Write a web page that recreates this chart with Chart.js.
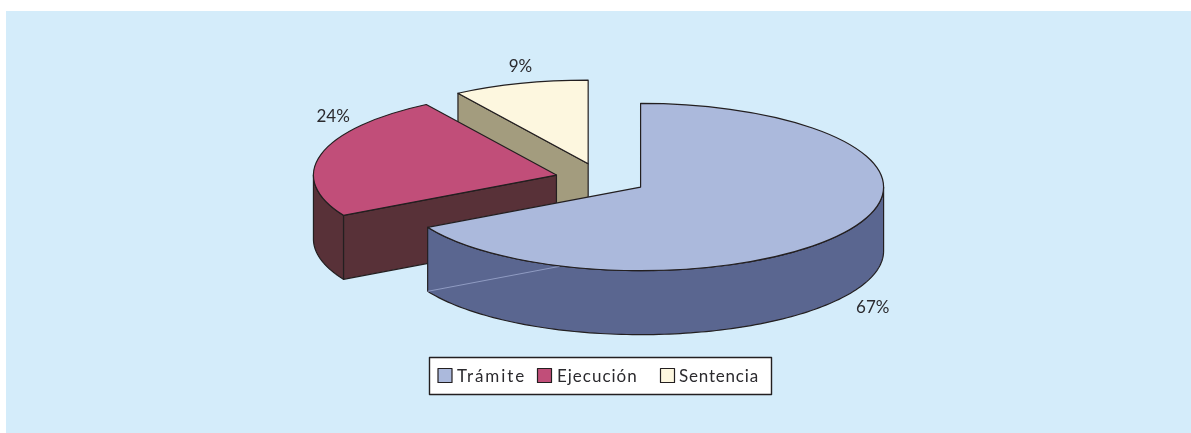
<!DOCTYPE html>
<html><head><meta charset="utf-8">
<script src="https://cdn.jsdelivr.net/npm/chart.js@4"></script>
<style>
html,body{margin:0;padding:0;background:#fff;}
#panel{position:absolute;left:6px;top:11px;width:1185px;height:422px;background:#D4ECFA;}
#c{position:absolute;left:0;top:0;}
</style></head><body>
<div id="panel"></div>
<canvas id="c" width="1191" height="433"></canvas>
<script>
const categories = ['Trámite', 'Ejecución', 'Sentencia'];
const values = [67, 24, 9];
const topColors = ['#ABB9DC', '#C14E79', '#FDF7DF'];
const wallColors = ['#5A6690', '#583138', '#A39C7E'];
const labelNudges = [[23, 78], [12, -38], [0, -17]];
const legendSquareX = [438, 537.5, 660.5];
const legendTextX = [457, 557, 679];
const legendSpacing = [1.9, 1, 0.8];

const SQUASH = 0.344, DEPTH = 64, EXPLODE = 46, INK = '#231F20', TEXT = '#2B2A2E';
const FONT = 'Lato';

function slicePath(ctx, el, cy) {
  ctx.save();
  ctx.translate(0, cy); ctx.scale(1, SQUASH); ctx.translate(0, -cy);
  ctx.beginPath();
  ctx.moveTo(el.x, el.y);
  ctx.arc(el.x, el.y, el.outerRadius, el.startAngle, el.endAngle);
  ctx.closePath();
  ctx.restore();
}
function pt(el, a, cy, dz) {
  return [el.x + el.outerRadius * Math.cos(a),
          cy + (el.y - cy + el.outerRadius * Math.sin(a)) * SQUASH + dz];
}
function centre(el, cy, dz) { return [el.x, cy + (el.y - cy) * SQUASH + dz]; }
function poly(ctx, pts, fill) {
  ctx.beginPath();
  pts.forEach((p, i) => i ? ctx.lineTo(p[0], p[1]) : ctx.moveTo(p[0], p[1]));
  ctx.closePath();
  ctx.fillStyle = fill; ctx.fill();
  ctx.strokeStyle = INK; ctx.lineWidth = 1.2; ctx.stroke();
}
function radialWall(ctx, el, a, cy, fill) {
  poly(ctx, [centre(el, cy, 0), pt(el, a, cy, 0), pt(el, a, cy, DEPTH), centre(el, cy, DEPTH)], fill);
}
function outerWall(ctx, el, cy, fill) {
  const from = Math.max(el.startAngle, 0), to = Math.min(el.endAngle, Math.PI);
  if (to <= from) return;
  const pts = [];
  const n = 120;
  for (let i = 0; i <= n; i++) pts.push(pt(el, from + (to - from) * i / n, cy, 0));
  for (let i = n; i >= 0; i--) pts.push(pt(el, from + (to - from) * i / n, cy, DEPTH));
  poly(ctx, pts, fill);
}

const pie3d = {
  id: 'pie3d',
  afterDatasetsUpdate(chart) {
    chart.getDatasetMeta(0).data.forEach(el => {
      if (el.$exploded) return;
      const mid = (el.startAngle + el.endAngle) / 2;
      el.x += Math.cos(mid) * EXPLODE;
      el.y += Math.sin(mid) * EXPLODE;
      el.$exploded = true;
    });
    chart.$cy = (chart.chartArea.top + chart.chartArea.bottom) / 2;
  },
  beforeDatasetsDraw(chart) {
    const ctx = chart.ctx, arcs = chart.getDatasetMeta(0).data, cy = chart.$cy;
    ctx.save();
    ctx.lineJoin = 'round';
    for (let i = arcs.length - 1; i >= 0; i--) {
      const el = arcs[i], fill = wallColors[i];
      if (Math.cos(el.startAngle) < -1e-6) radialWall(ctx, el, el.startAngle, cy, fill);
      if (Math.cos(el.endAngle) > 1e-6) radialWall(ctx, el, el.endAngle, cy, fill);
      outerWall(ctx, el, cy, fill);
    }
    ctx.restore();
    ctx.save();
    ctx.translate(0, cy); ctx.scale(1, SQUASH); ctx.translate(0, -cy);
  },
  afterDatasetsDraw(chart) {
    const ctx = chart.ctx, arcs = chart.getDatasetMeta(0).data, cy = chart.$cy;
    ctx.restore();
    ctx.save();
    ctx.lineJoin = 'round';
    // light seam seen through the front wall of the first slice
    const a = pt(arcs[0], arcs[0].endAngle, cy, DEPTH), b = centre(arcs[0], cy, DEPTH);
    const t = 0.62;
    ctx.beginPath();
    ctx.moveTo(a[0], a[1]);
    ctx.lineTo(a[0] + (b[0] - a[0]) * t, a[1] + (b[1] - a[1]) * t);
    ctx.strokeStyle = '#8F9BC2'; ctx.lineWidth = 1; ctx.stroke();
    arcs.forEach(el => {
      slicePath(ctx, el, cy);
      ctx.strokeStyle = INK; ctx.lineWidth = 1.2; ctx.stroke();
    });
    ctx.font = '17px ' + FONT;
    ctx.fillStyle = TEXT;
    ctx.textAlign = 'center';
    ctx.textBaseline = 'middle';
    arcs.forEach((el, i) => {
      const mid = (el.startAngle + el.endAngle) / 2;
      const p = pt(el, mid, cy, 0);
      ctx.fillText(values[i] + '%', p[0] + labelNudges[i][0], p[1] + labelNudges[i][1]);
    });
    // legend
    ctx.fillStyle = '#fff';
    ctx.strokeStyle = INK;
    ctx.lineWidth = 1.4;
    ctx.fillRect(429.5, 357.5, 342, 37);
    ctx.strokeRect(429.5, 357.5, 342, 37);
    ctx.textAlign = 'left';
    categories.forEach((name, i) => {
      ctx.fillStyle = topColors[i];
      ctx.fillRect(legendSquareX[i], 368.5, 14, 14);
      ctx.lineWidth = 1.2;
      ctx.strokeRect(legendSquareX[i], 368.5, 14, 14);
      ctx.fillStyle = TEXT;
      ctx.letterSpacing = legendSpacing[i] + 'px';
      ctx.fillText(name, legendTextX[i], 376.5);
    });
    ctx.restore();
  }
};

new Chart(document.getElementById('c'), {
  type: 'pie',
  plugins: [pie3d],
  data: {
    labels: categories,
    datasets: [{ data: values, backgroundColor: topColors, borderWidth: 0 }]
  },
  options: {
    responsive: false,
    animation: false,
    radius: 243,
    rotation: 0,
    layout: { padding: { left: 11, right: 0, top: 0, bottom: 75 } },
    plugins: {
      tooltip: { enabled: false },
      legend: { display: false }
    }
  }
});
</script>
</body></html>
